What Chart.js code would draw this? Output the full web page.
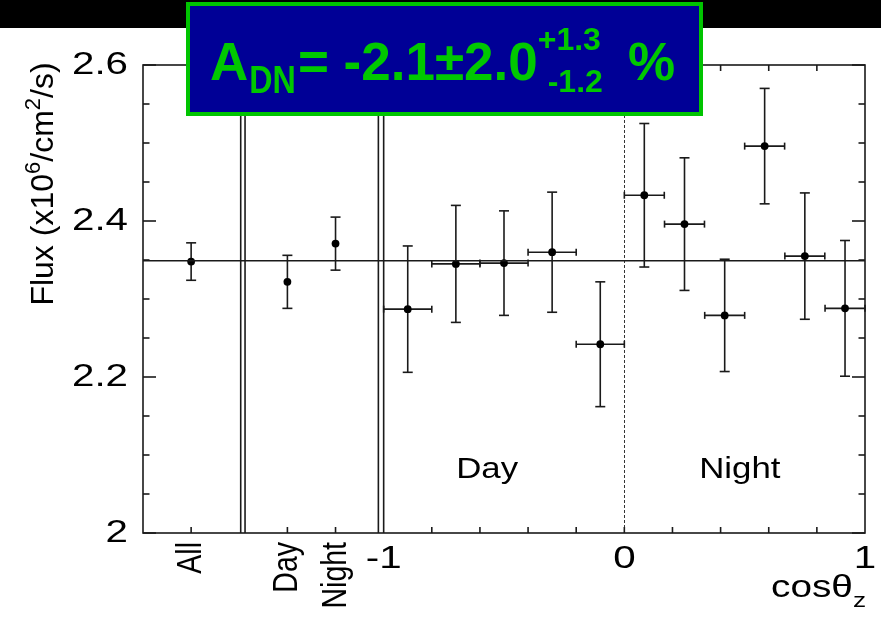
<!DOCTYPE html>
<html>
<head>
<meta charset="utf-8">
<script src="https://cdn.jsdelivr.net/npm/chart.js@4.4.1/dist/chart.umd.min.js"></script>
<style>
  html, body { margin:0; padding:0; background:#fff; }
  #wrap { width:881px; height:621px; }
</style>
</head>
<body>
<div id="wrap"><canvas id="fluxChart" width="881" height="621"></canvas></div>
<script>
// summary points (All / Day / Night) sit left of the cos axis
const summaryLabels = ['All', 'Day', 'Night'];
const summaryPos = [-1.8, -1.4, -1.2];
const summaryFlux = [2.348, 2.322, 2.371];
const summaryErr = [0.024, 0.034, 0.034];

// day bins, cos from -1 to 0
const dayCos = [-0.9, -0.7, -0.5, -0.3, -0.1];
const dayHalfBin = 0.1;
const dayFlux = [2.287, 2.345, 2.346, 2.360, 2.242];
const dayErr = [0.081, 0.075, 0.067, 0.077, 0.080];

// night bins, cos from 0 to 1
const nightCos = [0.083, 0.25, 0.417, 0.583, 0.75, 0.917];
const nightHalfBin = 0.083;
const nightFlux = [2.433, 2.396, 2.279, 2.496, 2.355, 2.288];
const nightErr = [0.092, 0.085, 0.072, 0.074, 0.081, 0.087];

const avgFlux = 2.349;
const separators = [-1.594, -1.576, -1.022, -1.0];
const cosTicks = [-0.8, -0.6, -0.4, -0.2, 0, 0.2, 0.4, 0.6, 0.8];
const xTickVals = [-1, 0, 1];
const xTickLabels = ['-1', '0', '1'];
const yTickVals = [2, 2.2, 2.4, 2.6];
const yTickLabels = ['2', '2.2', '2.4', '2.6'];

const FONT = '"Liberation Sans", Arial, sans-serif';
const INK = '#1a1a1a';

function pts(xs, ys) { return xs.map((v, i) => ({x: v, y: ys[i]})); }

function seg(ctx, x1, y1, x2, y2) {
  ctx.beginPath(); ctx.moveTo(x1, y1); ctx.lineTo(x2, y2); ctx.stroke();
}

function txt(ctx, s, x, y, o) {
  ctx.save();
  ctx.translate(x, y);
  ctx.scale(o.sx || 1, 1);
  if (o.rot) ctx.rotate(o.rot);
  ctx.font = o.font;
  ctx.fillStyle = o.color || '#000';
  ctx.textAlign = o.align || 'left';
  ctx.textBaseline = o.base || 'alphabetic';
  ctx.fillText(s, 0, 0);
  ctx.restore();
}

function errBars(ctx, x, y, xs, ys, es, half) {
  xs.forEach((v, i) => {
    const px = x.getPixelForValue(v);
    const top = y.getPixelForValue(ys[i] + es[i]);
    const bot = y.getPixelForValue(ys[i] - es[i]);
    seg(ctx, px, top, px, bot);
    seg(ctx, px - 5, top, px + 5, top);
    seg(ctx, px - 5, bot, px + 5, bot);
    if (half) {
      const py = y.getPixelForValue(ys[i]);
      const l = x.getPixelForValue(v - half), r = x.getPixelForValue(v + half);
      seg(ctx, l, py, r, py);
      seg(ctx, l, py - 3.5, l, py + 3.5);
      seg(ctx, r, py - 3.5, r, py + 3.5);
    }
  });
}

const fluxDecor = {
  id: 'fluxDecor',
  beforeDraw(chart) {
    const {ctx, width, height} = chart;
    ctx.save();
    ctx.fillStyle = '#fff'; ctx.fillRect(0, 0, width, height);
    ctx.fillStyle = '#000'; ctx.fillRect(0, 0, width, 28);
    ctx.restore();
  },
  beforeDatasetsDraw(chart) {
    const {ctx, chartArea: a, scales: {x, y}} = chart;
    ctx.save();
    ctx.strokeStyle = '#333'; ctx.lineWidth = 1; ctx.setLineDash([3, 2]);
    const x0 = Math.round(x.getPixelForValue(0)) + 0.5;
    seg(ctx, x0, a.top, x0, a.bottom);
    ctx.setLineDash([]);
    ctx.strokeStyle = INK; ctx.lineWidth = 1.6;
    errBars(ctx, x, y, summaryPos, summaryFlux, summaryErr, 0);
    errBars(ctx, x, y, dayCos, dayFlux, dayErr, dayHalfBin);
    errBars(ctx, x, y, nightCos, nightFlux, nightErr, nightHalfBin);
    ctx.restore();
  },
  afterDatasetsDraw(chart) {
    const {ctx, chartArea: a, scales: {x, y}} = chart;
    ctx.save();
    ctx.strokeStyle = INK; ctx.lineWidth = 1.6;
    ctx.strokeRect(a.left, a.top, a.right - a.left, a.bottom - a.top);
    separators.forEach(v => {
      const px = x.getPixelForValue(v);
      seg(ctx, px, a.top, px, a.bottom);
    });
    // y ticks both sides
    for (let k = 0; k <= 12; k++) {
      const v = 2 + k * 0.05;
      const py = y.getPixelForValue(v);
      const len = (k % 4 === 0) ? 13 : 6.5;
      seg(ctx, a.left, py, a.left + len, py);
      seg(ctx, a.right, py, a.right - len, py);
    }
    // x ticks top and bottom
    cosTicks.concat(summaryPos).forEach(v => {
      const px = x.getPixelForValue(v);
      seg(ctx, px, a.bottom, px, a.bottom - 6);
      seg(ctx, px, a.top, px, a.top + 6);
    });
    ctx.restore();
  },
  afterDraw(chart) {
    const {ctx, chartArea: a, scales: {x, y}} = chart;
    // y tick labels
    yTickVals.forEach((v, i) => {
      txt(ctx, yTickLabels[i], a.left - 15, y.getPixelForValue(v),
        {font: '31px ' + FONT, sx: 1.3, align: 'right', base: 'middle'});
    });
    // cos tick labels
    xTickVals.forEach((v, i) => {
      txt(ctx, xTickLabels[i], x.getPixelForValue(v), a.bottom + 35,
        {font: '31px ' + FONT, sx: 1.3, align: 'center'});
    });
    // rotated category labels
    summaryPos.forEach((v, i) => {
      txt(ctx, summaryLabels[i], x.getPixelForValue(v) + 10, a.bottom + 9,
        {font: '28.5px ' + FONT, sx: 1.26, rot: -Math.PI / 2, align: 'right'});
    });
    // cos theta_z title
    ctx.save();
    ctx.font = '21px ' + FONT;
    const zw = ctx.measureText('z').width * 1.25;
    ctx.restore();
    txt(ctx, 'z', a.right + 1, a.bottom + 74, {font: '21px ' + FONT, sx: 1.25, align: 'right'});
    txt(ctx, 'cosθ', a.right + 1 - zw, a.bottom + 64, {font: '31px ' + FONT, sx: 1.25, align: 'right'});
    // Day / Night in-plot labels
    txt(ctx, 'Day', x.getPixelForValue(-0.57), y.getPixelForValue(2.07),
      {font: '29px ' + FONT, sx: 1.2, align: 'center'});
    txt(ctx, 'Night', x.getPixelForValue(0.48), y.getPixelForValue(2.07),
      {font: '29px ' + FONT, sx: 1.2, align: 'center'});
    // y axis title with superscripts
    ctx.save();
    ctx.translate(53, 184);
    ctx.rotate(-Math.PI / 2);
    ctx.fillStyle = '#000';
    const runs = [['Flux (x10', 0], ['6', 1], ['/cm', 0], ['2', 1], ['/s)', 0]];
    let total = 0;
    runs.forEach(r => { ctx.font = (r[1] ? '22px ' : '32px ') + FONT; total += ctx.measureText(r[0]).width; });
    let cx = -total / 2;
    runs.forEach(r => {
      ctx.font = (r[1] ? '22px ' : '32px ') + FONT;
      ctx.fillText(r[0], cx, r[1] ? -13 : 0);
      cx += ctx.measureText(r[0]).width;
    });
    ctx.restore();
    // asymmetry box
    ctx.save();
    ctx.fillStyle = '#000096';
    ctx.fillRect(186, 2, 517, 114);
    ctx.strokeStyle = '#00c400'; ctx.lineWidth = 4;
    ctx.strokeRect(188, 4, 513, 110);
    const g = '#00c800';
    const big = 'bold 53px ' + FONT;
    txt(ctx, 'A', 210, 80, {font: big, color: g});
    ctx.font = big;
    let bx = 210 + ctx.measureText('A').width + 1;
    txt(ctx, 'DN', bx, 93, {font: 'bold 38px ' + FONT, sx: 0.85, color: g});
    ctx.font = 'bold 38px ' + FONT;
    bx += ctx.measureText('DN').width * 0.85 + 2;
    txt(ctx, '= -2.1±2.0', bx, 80, {font: big, color: g});
    ctx.font = big;
    bx += ctx.measureText('= -2.1±2.0').width;
    txt(ctx, '+1.3', bx, 50, {font: 'bold 32px ' + FONT, color: g});
    txt(ctx, '-1.2', bx + 10, 92, {font: 'bold 32px ' + FONT, color: g});
    txt(ctx, '%', 628, 80, {font: big, color: g});
    ctx.restore();
  }
};

const pointStyle = {
  showLine: false, pointRadius: 3.9, pointHoverRadius: 3.9,
  pointBackgroundColor: '#000', pointBorderColor: '#000', borderWidth: 0
};

new Chart(document.getElementById('fluxChart'), {
  type: 'scatter',
  data: {
    datasets: [
      { type: 'line', label: 'average', data: [{x: -2, y: avgFlux}, {x: 1, y: avgFlux}],
        borderColor: INK, borderWidth: 1.5, pointRadius: 0, fill: false },
      Object.assign({ label: 'summary', data: pts(summaryPos, summaryFlux) }, pointStyle),
      Object.assign({ label: 'day', data: pts(dayCos, dayFlux) }, pointStyle),
      Object.assign({ label: 'night', data: pts(nightCos, nightFlux) }, pointStyle)
    ]
  },
  options: {
    responsive: false,
    animation: false,
    layout: { padding: { left: 143, right: 16, top: 65, bottom: 88 } },
    scales: {
      x: { type: 'linear', min: -2, max: 1, display: false },
      y: { type: 'linear', min: 2, max: 2.6, display: false }
    },
    plugins: { legend: { display: false }, tooltip: { enabled: false } }
  },
  plugins: [fluxDecor]
});
</script>
</body>
</html>
